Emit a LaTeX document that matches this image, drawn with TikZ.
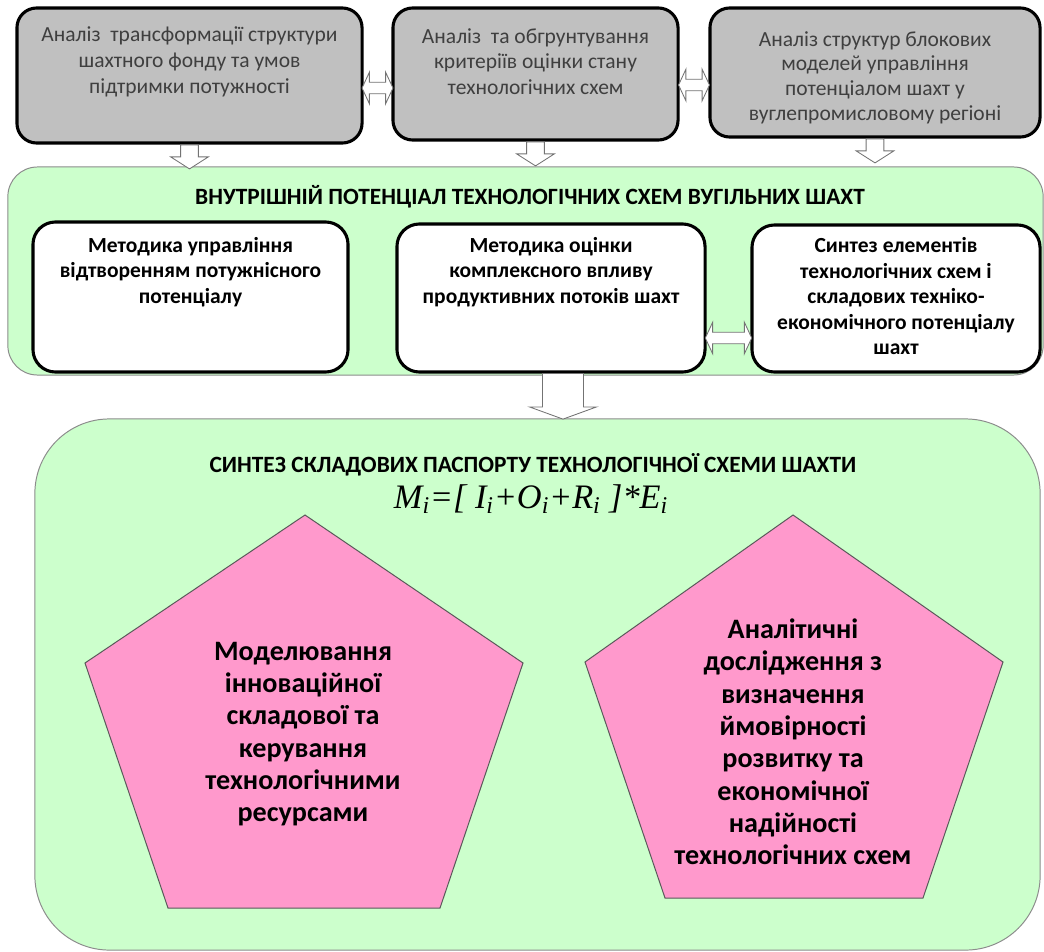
\documentclass[tikz,border=0pt]{standalone}
\usepackage{fontspec}
\setmainfont{Carlito}
\newfontfamily\formulafont{Liberation Serif}
\usepackage{tikz}
\usetikzlibrary{shapes,arrows,positioning}

\definecolor{boxgray}{HTML}{C0C0C0}
\definecolor{textgray}{HTML}{3F3F3F}
\definecolor{panelgreen}{HTML}{CCFFCC}
\definecolor{pentapink}{HTML}{FF99CC}

\begin{document}
\begin{tikzpicture}[x=0.025cm, y=-0.025cm,
  analysis/.style={draw=black, line width=2.2pt, fill=boxgray, rounded corners=14pt, inner sep=0pt},
  analysistext/.style={text=textgray, align=center, font=\fontsize{15.3}{18.4}\selectfont},
  panel/.style={draw=black!45, line width=0.7pt, fill=panelgreen, inner sep=0pt},
  method/.style={draw=black, line width=2.2pt, fill=white, rounded corners=16pt, inner sep=0pt},
  methodtext/.style={align=center, font=\bfseries\fontsize{15.3}{18.1}\selectfont},
  paneltitle/.style={font=\bfseries\fontsize{16.6}{19}\selectfont},
  penta/.style={draw=black!65, line width=0.7pt, fill=pentapink},
  pentatext/.style={align=center, font=\bfseries\fontsize{20}{23}\selectfont},
  downarrow/.style={single arrow, draw=black!55, fill=white, line width=0.6pt,
    shape border rotate=270, single arrow tip angle=115, inner sep=6pt,
    minimum width=20.5pt, minimum height=17pt},
  bigarrow/.style={downarrow, single arrow tip angle=140, inner sep=11pt,
    minimum width=47.5pt, minimum height=32.5pt},
  twoway/.style={double arrow, draw=black!55, fill=white, line width=0.6pt,
    double arrow tip angle=130, inner sep=3.8pt,
    minimum width=18.5pt, minimum height=22pt}]
\useasboundingbox (0,0) rectangle (1044,952);

% top row: analysis
\node[analysis, minimum width=8.625cm, minimum height=3.375cm] (a1) at (189.5,75.5) {};
\node[analysis, minimum width=7.125cm, minimum height=3.3cm] (a2) at (535.5,74) {};
\node[analysis, minimum width=8.25cm, minimum height=3.225cm] (a3) at (875,72.5) {};

\node[analysistext, below=0.39cm of a1.north] (a1text)
  {Аналіз\ \ трансформації структури\\шахтного фонду та умов\\підтримки потужності};
\node[analysistext, below=0.42cm of a2.north] (a2text)
  {Аналіз\ \ та обгрунтування\\критеріїв оцінки стану\\технологічних схем};
\node[analysistext, below=0.5cm of a3.north, font=\fontsize{15.3}{17.5}\selectfont] (a3text)
  {Аналіз структур блокових\\моделей управління\\потенціалом шахт у\\вуглепромисловому регіоні};

\node[twoway] (a12) at (377.5,88) {};
\node[twoway] (a23) at (694,85) {};

% inner potential
\node[panel, rounded corners=21pt, minimum width=25.875cm, minimum height=5.2cm] (inner) at (525.5,271) {};
\node[paneltitle] (innertitle) at (530,197) {ВНУТРІШНІЙ ПОТЕНЦІАЛ ТЕХНОЛОГІЧНИХ СХЕМ ВУГІЛЬНИХ ШАХТ};

\node[method, minimum width=7.875cm, minimum height=3.75cm] (b1) at (190.5,297) {};
\node[method, minimum width=7.7cm, minimum height=3.7cm] (b2) at (551,298) {};
\node[method, minimum width=7.2cm, minimum height=3.675cm] (b3) at (896,298.5) {};

\node[methodtext, below=0.3cm of b1.north] (b1text)
  {Методика управління\\відтворенням потужнісного\\потенціалу};
\node[methodtext, below=0.25cm of b2.north] (b2text)
  {Методика оцінки\\комплексного впливу\\продуктивних потоків шахт};
\node[methodtext, below=0.23cm of b3.north] (b3text)
  {Синтез елементів\\технологічних схем і\\складових техніко-\\економічного потенціалу\\шахт};

\node[twoway, minimum height=33pt] (b23) at (728.5,338) {};

\node[downarrow, anchor=tail] (a1down) at (a1.south) {};
\node[downarrow, anchor=tail] (a2down) at (a2.south) {};
\node[downarrow, anchor=tail] (a3down) at (a3.south) {};

% passport
\node[panel, rounded corners=53pt, minimum width=25.125cm, minimum height=13.275cm] (passport) at (537.5,684.5) {};
\node[bigarrow, anchor=tail] (innerdown) at (563,373) {};

\node[paneltitle] (passtitle) at (533,465) {СИНТЕЗ СКЛАДОВИХ ПАСПОРТУ ТЕХНОЛОГІЧНОЇ СХЕМИ ШАХТИ};
\node[font=\formulafont\itshape\fontsize{24.4}{28}\selectfont] (formula) at (531,499)
  {M\textsubscript{i}=[ I\textsubscript{i}+O\textsubscript{i}+R\textsubscript{i} ]*E\textsubscript{i}};

\draw[penta] (305,515) -- (523,663) -- (440,908) -- (168,908) -- (85,663) -- cycle;
\draw[penta] (793,515) -- (1003,662) -- (923,898) -- (665,898) -- (585,662) -- cycle;

\node[pentatext] (model) at (303,734)
  {Моделювання\\інноваційної\\складової та\\керування\\технологічними\\ресурсами};
\node[pentatext] (analytic) at (793,742)
  {Аналітичні\\дослідження з\\визначення\\ймовірності\\розвитку та\\економічної\\надійності\\технологічних схем};
\end{tikzpicture}
\end{document}
